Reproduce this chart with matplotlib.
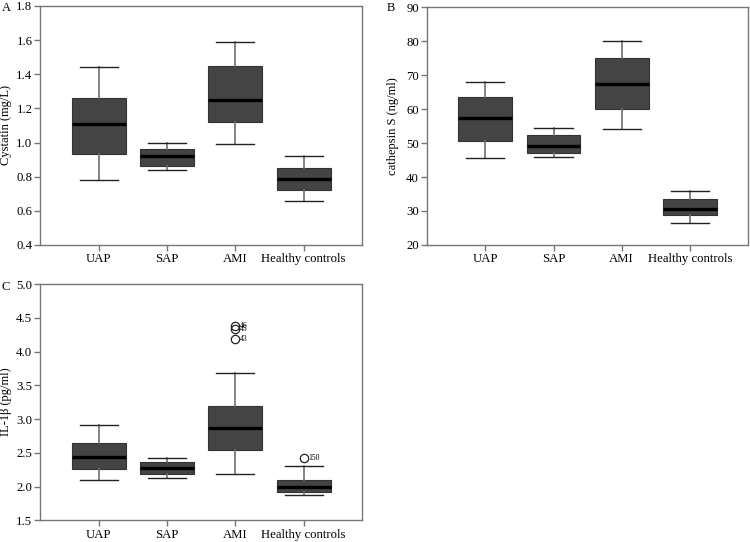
import matplotlib
matplotlib.use("Agg")
import matplotlib.pyplot as plt

plt.rcParams['font.family'] = ['Liberation Serif', 'DejaVu Serif']

groups = ['UAP', 'SAP', 'AMI', 'Healthy controls']

# whisker low, Q1, median, Q3, whisker high
cystatin = [
    [0.78, 0.93, 1.11, 1.26, 1.44],
    [0.84, 0.865, 0.92, 0.96, 1.00],
    [0.99, 1.12, 1.25, 1.45, 1.59],
    [0.66, 0.72, 0.785, 0.85, 0.92],
]
cathepsin = [
    [45.5, 50.5, 57.5, 63.5, 68.0],
    [46.0, 47.2, 49.2, 52.3, 54.5],
    [54.0, 60.0, 67.5, 75.0, 80.0],
    [26.5, 28.8, 30.5, 33.5, 36.0],
]
il1b = [
    [2.10, 2.26, 2.44, 2.64, 2.91],
    [2.12, 2.19, 2.27, 2.37, 2.42],
    [2.18, 2.545, 2.87, 3.20, 3.68],
    [1.87, 1.92, 1.99, 2.09, 2.30],
]
il1b_fliers = [[], [], [4.38, 4.33, 4.19], [2.43]]
il1b_flier_ids = [[], [], ['46', '45', '43'], ['150']]


def make_stats(vals, fliers=None):
    out = []
    for i, v in enumerate(vals):
        out.append(dict(whislo=v[0], q1=v[1], med=v[2], q3=v[3], whishi=v[4],
                        fliers=(fliers[i] if fliers else []), label=groups[i]))
    return out


def draw(ax, vals, ylim, yticks, fmt, ylabel, fliers=None, ids=None):
    pos = [1, 2, 3, 4]
    ax.bxp(make_stats(vals, fliers), positions=pos, widths=0.79, patch_artist=True,
           boxprops=dict(facecolor='#444444', edgecolor='#333333', linewidth=0.8),
           medianprops=dict(color='black', linewidth=2.4),
           whiskerprops=dict(color='#707070', linewidth=1.2),
           capprops=dict(color='#222222', linewidth=1.0),
           capwidths=0.56,
           flierprops=dict(marker='o', markerfacecolor='none', markeredgecolor='#222222',
                           markersize=6, markeredgewidth=0.9))
    if fliers:
        for i, (fl, lab) in enumerate(zip(fliers, ids)):
            for y, t in zip(fl, lab):
                ax.text(pos[i] + 0.07, y, t, fontsize=5.5, va='center', ha='left')
    ax.set_xlim(0.14, 4.85)
    ax.set_ylim(*ylim)
    ax.set_yticks(yticks)
    ax.set_yticklabels([fmt.format(t) for t in yticks], fontsize=9.2)
    ax.set_xticks(pos)
    ax.set_xticklabels(groups, fontsize=9.2)
    ax.set_ylabel(ylabel, fontsize=9)
    ax.yaxis.set_label_coords(-0.088, 0.5)
    for s in ax.spines.values():
        s.set_color('#777777')
        s.set_linewidth(1.0)
    ax.tick_params(colors='#777777', labelcolor='black', length=4, width=1.0, pad=1.5)
    ax.tick_params(axis='x', pad=2)


fig = plt.figure(figsize=(7.5, 5.42), dpi=100)
axA = fig.add_axes([0.0533, 0.548, 0.429, 0.441])
axB = fig.add_axes([0.569, 0.548, 0.428, 0.439])
axC = fig.add_axes([0.0533, 0.040, 0.429, 0.436])

draw(axA, cystatin, (0.4, 1.8), [0.4, 0.6, 0.8, 1.0, 1.2, 1.4, 1.6, 1.8], '{:.1f}',
     'Cystatin (mg/L)')
draw(axB, cathepsin, (20, 90), [20, 30, 40, 50, 60, 70, 80, 90], '{:.0f}',
     'cathepsin S (ng/ml)')
draw(axC, il1b, (1.5, 5.0), [1.5, 2.0, 2.5, 3.0, 3.5, 4.0, 4.5, 5.0], '{:.1f}',
     'IL-1\u03b2 (pg/ml)', il1b_fliers, il1b_flier_ids)

fig.text(0.002, 0.997, 'A', fontsize=9, va='top')
fig.text(0.515, 0.997, 'B', fontsize=9, va='top')
fig.text(0.002, 0.481, 'C', fontsize=9, va='top')

fig.savefig('out.png', dpi=100)
